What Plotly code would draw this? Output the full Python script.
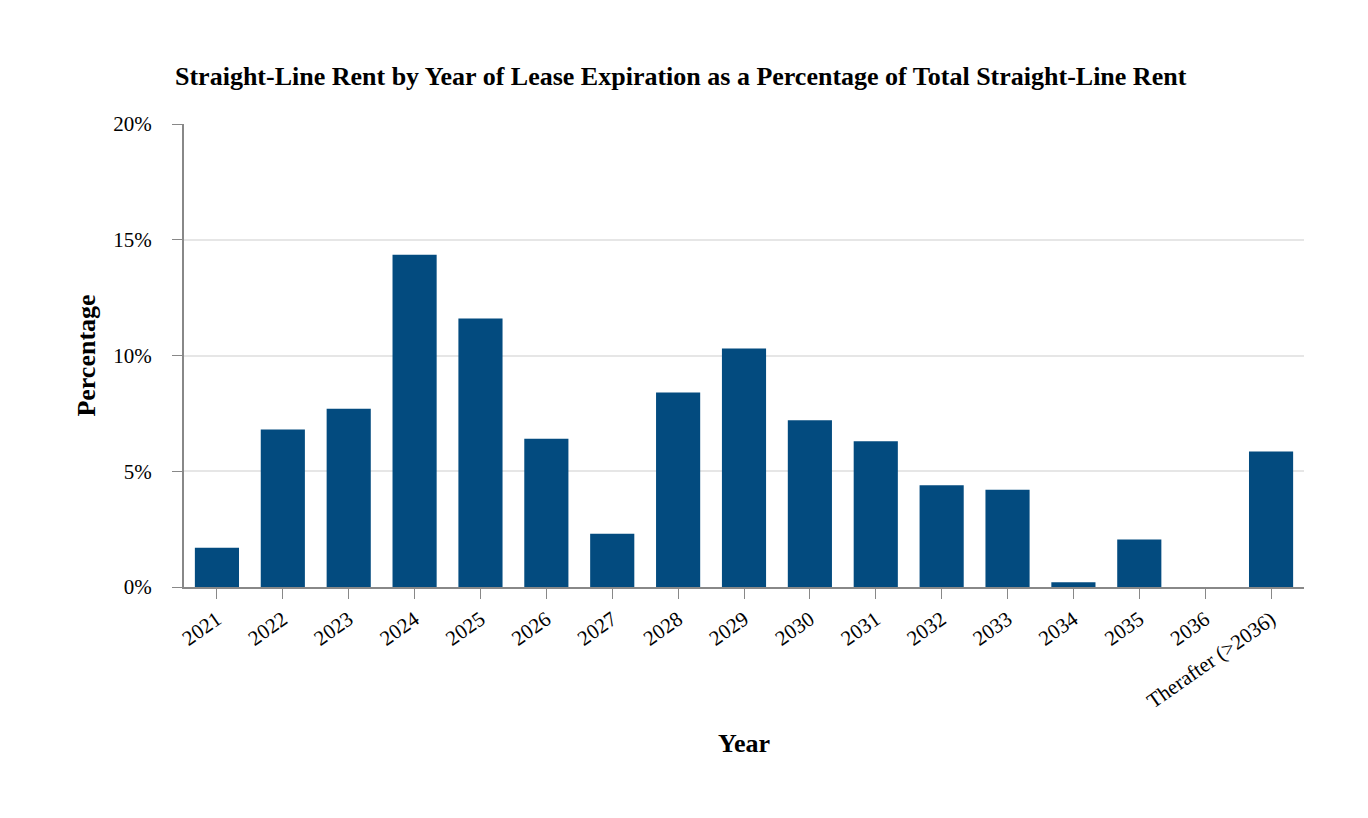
import plotly.graph_objects as go

categories = ["2021", "2022", "2023", "2024", "2025", "2026", "2027", "2028", "2029",
              "2030", "2031", "2032", "2033", "2034", "2035", "2036", "Therafter (>2036)"]
percentages = [1.7, 6.8, 7.7, 14.35, 11.6, 6.4, 2.3, 8.4, 10.3,
               7.2, 6.3, 4.4, 4.2, 0.2, 2.05, 0.0, 5.85]
y_ticks = [0, 5, 10, 15, 20]
y_tick_labels = ["0%", "5%", "10%", "15%", "20%"]

FONT = "Liberation Serif, Times New Roman, serif"

fig = go.Figure(go.Bar(
    x=categories, y=percentages,
    marker=dict(color="#034b7f", line=dict(width=0)),
))

fig.update_layout(
    width=1368, height=818,
    margin=dict(l=184, r=64, t=124, b=231),
    paper_bgcolor="white", plot_bgcolor="white",
    bargap=0.33,
    font=dict(family=FONT, size=21, color="black"),
    title=dict(text="<b>Straight-Line Rent by Year of Lease Expiration as a Percentage of Total Straight-Line Rent</b>",
               x=175/1368, xanchor="left", y=1-76/818, yanchor="middle",
               font=dict(family=FONT, size=26, color="black")),
    showlegend=False,
)
fig.update_xaxes(
    title=dict(text="<b>Year</b>", font=dict(family=FONT, size=26), standoff=22),
    tickangle=-35, ticks="outside", ticklen=10, tickcolor="#888888",
    showline=True, linecolor="#888888", linewidth=2,
    tickfont=dict(family=FONT, size=21),
)
fig.update_yaxes(
    title=dict(text="<b>Percentage</b>", font=dict(family=FONT, size=26), standoff=10),
    range=[0, 20], tickvals=y_ticks, ticktext=y_tick_labels,
    ticks="outside", ticklen=10, tickcolor="#888888",
    showline=True, linecolor="#888888", linewidth=2,
    showgrid=True, gridcolor="#e6e6e6", gridwidth=1.5,
    zeroline=False, ticklabelstandoff=16,
    tickfont=dict(family=FONT, size=21),
)

fig.write_html("out.html")
